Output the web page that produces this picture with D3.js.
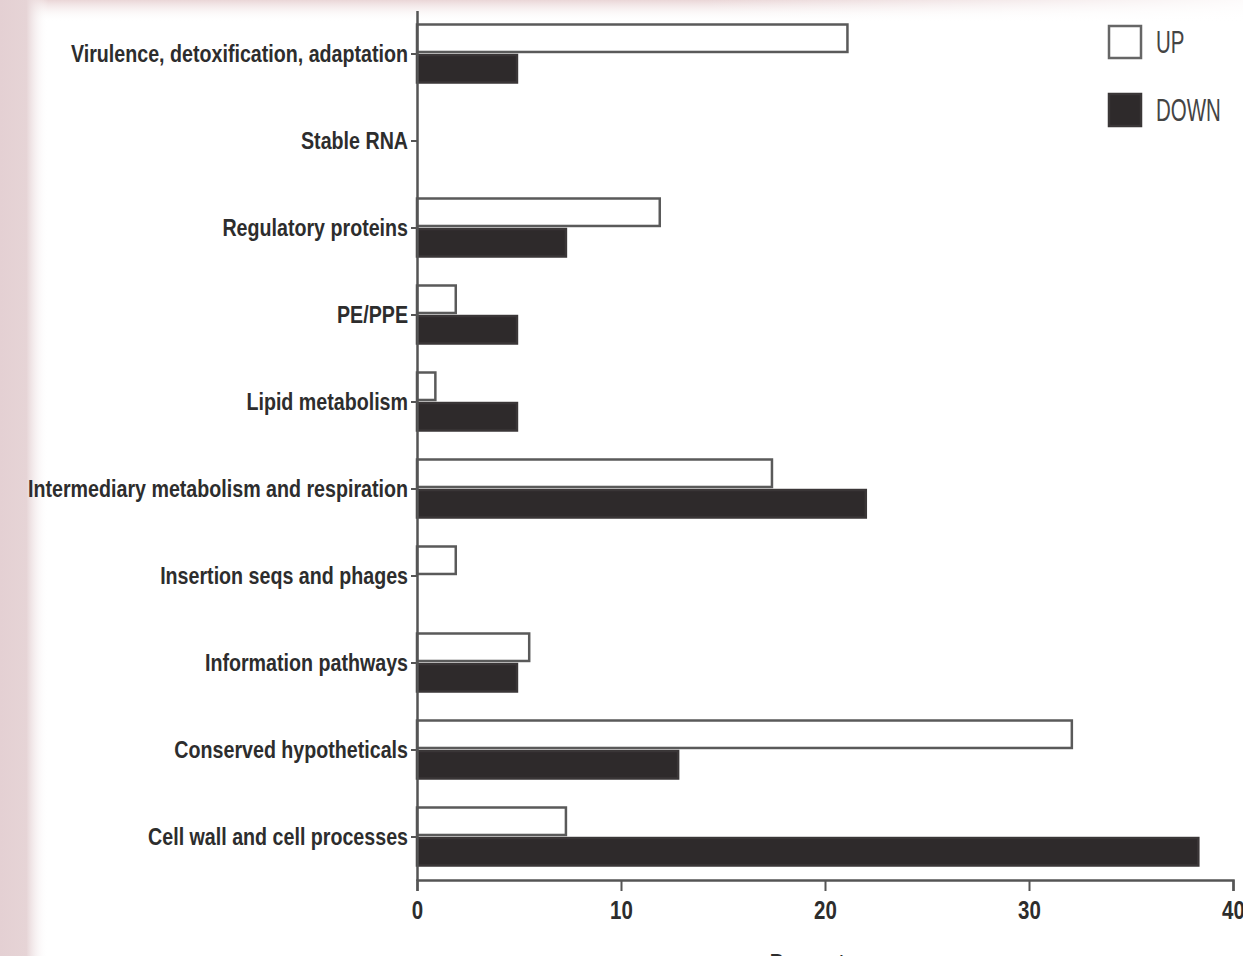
<!DOCTYPE html>
<html lang="en">
<head>
  <meta charset="UTF-8" />
  <title>Functional categories UP / DOWN</title>
  <script src="https://d3js.org/d3.v7.min.js"></script>
  <style>
    html, body { margin: 0; padding: 0; background: #fff; overflow: hidden; }
    svg { display: block; }
    .lbl { font-family: "Liberation Sans", Arial, sans-serif; }
  </style>
</head>
<body>
  <script>
    // Data (percentages)
    const categories = [
      'Virulence, detoxification, adaptation',
      'Stable RNA',
      'Regulatory proteins',
      'PE/PPE',
      'Lipid metabolism',
      'Intermediary metabolism and respiration',
      'Insertion seqs and phages',
      'Information pathways',
      'Conserved hypotheticals',
      'Cell wall and cell processes'
    ];
    const upValues   = [21.1, 0, 11.9, 1.9, 0.9, 17.4, 1.9, 5.5, 32.1, 7.3];
    const downValues = [4.9, 0, 7.3, 4.9, 4.9, 22.0, 0, 4.9, 12.8, 38.3];
    const series = ['UP', 'DOWN'];
    const xTicks = [0, 10, 20, 30, 40];
    const xTitle = 'Percentage';

    const W = 1243, H = 956;
    const svg = d3.select('body').append('svg')
      .attr('width', W)
      .attr('height', H);

    // no condensed font installed -> squeeze glyphs horizontally
    let squeeze = 0.72;
    function condense(sel) {
      sel.each(function() {
        const len = this.getComputedTextLength();
        d3.select(this)
          .attr('textLength', len * squeeze)
          .attr('lengthAdjust', 'spacingAndGlyphs');
      });
    }

    // pinkish photo border (left + top)
    const defs = svg.append('defs');
    const gl = defs.append('linearGradient').attr('id', 'leftFade')
      .attr('x1', 0).attr('x2', 1).attr('y1', 0).attr('y2', 0);
    gl.append('stop').attr('offset', '0%').attr('stop-color', '#e4d0d3');
    gl.append('stop').attr('offset', '55%').attr('stop-color', '#e6d4d6');
    gl.append('stop').attr('offset', '100%').attr('stop-color', '#ffffff').attr('stop-opacity', 0);
    const gt = defs.append('linearGradient').attr('id', 'topFade')
      .attr('x1', 0).attr('x2', 0).attr('y1', 0).attr('y2', 1);
    gt.append('stop').attr('offset', '0%').attr('stop-color', '#ead6d7');
    gt.append('stop').attr('offset', '100%').attr('stop-color', '#ffffff').attr('stop-opacity', 0);
    const gtr = defs.append('linearGradient').attr('id', 'topRight')
      .attr('x1', 0).attr('x2', 1).attr('y1', 0).attr('y2', 0);
    gtr.append('stop').attr('offset', '0%').attr('stop-color', '#fff').attr('stop-opacity', 0);
    gtr.append('stop').attr('offset', '100%').attr('stop-color', '#fff').attr('stop-opacity', 0.9);

    svg.append('rect').attr('x', 0).attr('y', 0).attr('width', W).attr('height', 22).attr('fill', 'url(#topFade)');
    svg.append('rect').attr('x', 700).attr('y', 0).attr('width', W - 700).attr('height', 22).attr('fill', 'url(#topRight)');
    svg.append('rect').attr('x', 0).attr('y', 0).attr('width', 48).attr('height', H).attr('fill', 'url(#leftFade)');

    // Scales
    const x = d3.scaleLinear().domain([0, 40]).range([417, 1233]);
    const y = d3.scaleBand().domain(categories).range([10.5, 880.5]).paddingInner(0).paddingOuter(0);
    const ySub = d3.scaleBand().domain(series).range([14, 72]).paddingInner(0.1);

    const rows = categories.map((c, i) => ({ cat: c, UP: upValues[i], DOWN: downValues[i] }));

    // Bars
    const groups = svg.append('g').selectAll('g')
      .data(rows)
      .enter().append('g')
      .attr('transform', d => `translate(0,${y(d.cat)})`);

    groups.selectAll('rect')
      .data(d => series.map(s => ({ key: s, value: d[s] })).filter(e => e.value > 0))
      .enter().append('rect')
      .attr('x', x(0))
      .attr('y', d => ySub(d.key))
      .attr('width', d => x(d.value) - x(0))
      .attr('height', ySub.bandwidth())
      .attr('fill', d => d.key === 'UP' ? '#ffffff' : '#2e2a2b')
      .attr('stroke', d => d.key === 'UP' ? '#5a5a5a' : '#3a3637')
      .attr('stroke-width', 2.5);

    // Y axis
    const yAxis = svg.append('g')
      .attr('transform', `translate(${x(0)},0)`)
      .call(d3.axisLeft(y).tickSize(6).tickSizeOuter(0).tickPadding(3));
    yAxis.select('.domain').attr('stroke', '#555').attr('stroke-width', 2.5);
    yAxis.selectAll('.tick line').attr('stroke', '#555').attr('stroke-width', 2);
    const yLabels = yAxis.selectAll('.tick text')
      .attr('class', 'lbl')
      .attr('font-size', 24)
      .attr('font-weight', 'bold')
      .attr('fill', '#2d2d2d');
    // fit the squeeze so the first label matches the reference width
    const first = yLabels.filter(d => d === categories[0]).node();
    squeeze = 337 / first.getComputedTextLength();
    condense(yLabels);

    // X axis
    const xAxis = svg.append('g')
      .attr('transform', 'translate(0,880)')
      .call(d3.axisBottom(x).tickValues(xTicks).tickSize(11).tickSizeOuter(11).tickPadding(10));
    xAxis.select('.domain').attr('stroke', '#555').attr('stroke-width', 2.5);
    xAxis.selectAll('.tick line').attr('stroke', '#555').attr('stroke-width', 2);
    condense(xAxis.selectAll('.tick text')
      .attr('class', 'lbl')
      .attr('font-size', 25)
      .attr('font-weight', 'bold')
      .attr('fill', '#2d2d2d'));

    condense(svg.append('text')
      .attr('class', 'lbl')
      .attr('x', x(20))
      .attr('y', 972)
      .attr('text-anchor', 'middle')
      .attr('font-size', 25)
      .attr('font-weight', 'bold')
      .attr('fill', '#2d2d2d')
      .text(xTitle));

    // Legend
    const legend = svg.append('g').attr('transform', 'translate(1109,26)');
    const li = legend.selectAll('g')
      .data(series)
      .enter().append('g')
      .attr('transform', (d, i) => `translate(0,${i * 68})`);
    li.append('rect')
      .attr('width', 32)
      .attr('height', 32)
      .attr('fill', d => d === 'UP' ? '#ffffff' : '#2e2a2b')
      .attr('stroke', d => d === 'UP' ? '#666' : '#3a3637')
      .attr('stroke-width', 2.5);
    squeeze = 0.66;
    condense(li.append('text')
      .attr('class', 'lbl')
      .attr('x', 47)
      .attr('y', 16)
      .attr('dy', '0.36em')
      .attr('font-size', 31)
      .attr('fill', '#444')
      .text(d => d));
  </script>
</body>
</html>
